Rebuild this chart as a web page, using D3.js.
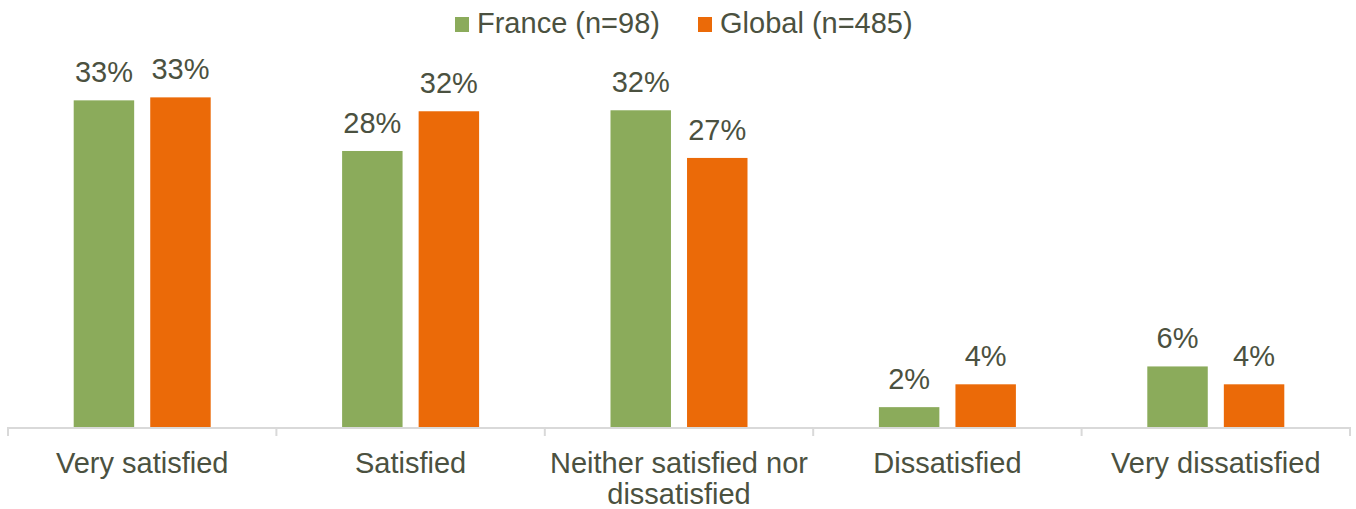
<!DOCTYPE html>
<html><head><meta charset="utf-8">
<script src="https://cdn.jsdelivr.net/npm/d3@7"></script>
<style>body{margin:0;background:#fff}svg{display:block}text{font-family:"Liberation Sans",Arial,sans-serif}</style>
</head><body><svg id="c" width="1356" height="509"></svg>
<script>
const categories = ["Very satisfied", "Satisfied", "Neither satisfied nor dissatisfied", "Dissatisfied", "Very dissatisfied"];
const categoryLines = [["Very satisfied"], ["Satisfied"], ["Neither satisfied nor", "dissatisfied"], ["Dissatisfied"], ["Very dissatisfied"]];
const seriesNames = ["France (n=98)", "Global (n=485)"];
const france = [32.9, 27.8, 31.9, 2.0, 6.1];
const global = [33.2, 31.8, 27.1, 4.3, 4.3];
const colors = ["#8BAB5B", "#EB6A08"];
const textColor = "#4B5140";

const svg = d3.select("#c");
const left = 8, right = 1350, base = 427;
const x = d3.scaleBand().domain(categories).range([left, right]).paddingInner(0).paddingOuter(0);
const y = d3.scaleLinear().domain([0, 35]).range([base, 79.5]);
const bw = x.bandwidth();
const x1 = d3.scaleBand().domain([0, 1]).range([bw / 2 - 68.5, bw / 2 + 68.5]).paddingInner(0.21).paddingOuter(0);

const series = [france, global];
series.forEach((vals, s) => {
  const g = svg.append("g");
  g.selectAll("rect").data(vals).join("rect")
    .attr("x", (d, i) => x(categories[i]) + x1(s))
    .attr("width", x1.bandwidth())
    .attr("y", d => y(d))
    .attr("height", d => base - y(d))
    .attr("fill", colors[s]);
  g.selectAll("text").data(vals).join("text")
    .attr("x", (d, i) => x(categories[i]) + x1(s) + x1.bandwidth() / 2)
    .attr("y", d => y(d) - 18)
    .attr("text-anchor", "middle")
    .attr("font-size", 29)
    .attr("fill", textColor)
    .text(d => Math.round(d) + "%");
});

// axis
const axisG = svg.append("g");
axisG.append("line").attr("x1", left).attr("x2", right).attr("y1", base + 1).attr("y2", base + 1)
  .attr("stroke", "#D9D9D9").attr("stroke-width", 2);
const tickXs = categories.map(c => x(c)).concat([right]);
axisG.selectAll("line.t").data(tickXs).join("line").attr("class", "t")
  .attr("x1", d => d).attr("x2", d => d).attr("y1", base).attr("y2", base + 9)
  .attr("stroke", "#D9D9D9").attr("stroke-width", 2);

categoryLines.forEach((lines, i) => {
  const t = svg.append("text").attr("text-anchor", "middle").attr("font-size", 29).attr("fill", textColor);
  lines.forEach((ln, j) => {
    t.append("tspan").attr("x", x(categories[i]) + bw / 2).attr("y", 473 + j * 31).text(ln);
  });
});

// legend
const legend = [{x: 455}, {x: 698}];
seriesNames.forEach((n, s) => {
  svg.append("rect").attr("x", legend[s].x).attr("y", 17).attr("width", 14).attr("height", 15).attr("fill", colors[s]);
  svg.append("text").attr("x", legend[s].x + 22).attr("y", 33).attr("font-size", 29).attr("fill", textColor).text(n);
});
</script></body></html>
